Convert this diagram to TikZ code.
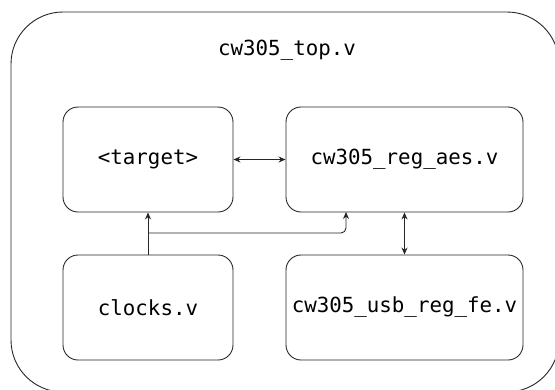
\documentclass[tikz,border=0pt]{standalone}
\usepackage{fontspec}
\setmonofont{DejaVu Sans Mono}
\usetikzlibrary{arrows.meta,calc}
\begin{document}
\begin{tikzpicture}[x=1pt,y=-1pt,
  box/.style={draw=black!85, line width=0.9pt, rounded corners=15pt, minimum width=170pt, minimum height=105pt, inner sep=0pt, font=\ttfamily\fontsize{20.8}{24}\selectfont},
  wbox/.style={box, minimum width=237pt},
  conn/.style={line width=0.9pt, draw=black!85},
  tip/.style={-{Stealth[length=7pt,width=6pt]}},
  dtip/.style={{Stealth[length=7pt,width=6pt]}-{Stealth[length=7pt,width=6pt]}},
  lbl/.style={font=\ttfamily\fontsize{20.8}{24}\selectfont, inner sep=0pt}]
\useasboundingbox (0,0) rectangle (555,389);
\clip (0,0) rectangle (555,389);
\draw[line width=0.9pt, draw=black!85, rounded corners=52pt] (11,12) rectangle (559,392);
\node[lbl] (title) at (287,50) {cw305\_top.v};
\node[box] (tgt) at (148,159.5) {<target>};
\node[wbox] (aes) at (404.5,159.5) {cw305\_reg\_aes.v};
\node[box] (clk) at (148,307.5) {clocks.v};
\node[wbox] (usb) at (404.5,307.5) {cw305\_usb\_reg\_fe.v};
\coordinate (br) at (148,233);
\coordinate (aesin) at (346,212);
\draw[conn,dtip] (tgt.east) -- (aes.west);
\draw[conn,tip] (clk.north) -- (tgt.south);
\draw[conn,tip,rounded corners=5pt] (br) -| (aesin);
\draw[conn,dtip] (aes.south) -- (usb.north);
\end{tikzpicture}
\end{document}
